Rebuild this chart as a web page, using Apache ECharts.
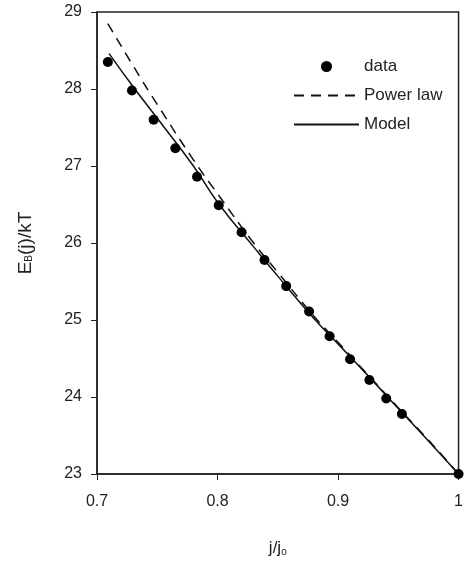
<!DOCTYPE html>
<html><head><meta charset="utf-8">
<script src="https://cdn.jsdelivr.net/npm/echarts@6/dist/echarts.min.js"></script>
<style>html,body{margin:0;padding:0;background:#fff}#c{width:466px;height:562px}</style>
</head><body><div id="c"></div>
<script>
const dataX = [0.709, 0.729, 0.747, 0.765, 0.783, 0.801, 0.820, 0.839, 0.857, 0.876, 0.893, 0.910, 0.926, 0.940, 0.953, 1.0];
const dataY = [28.35, 27.98, 27.60, 27.23, 26.86, 26.49, 26.14, 25.78, 25.44, 25.11, 24.79, 24.49, 24.22, 23.98, 23.78, 23.0];
const powerX = [0.709, 0.73, 0.75, 0.78, 0.80, 0.83, 0.85, 0.88, 0.90, 0.93, 0.95, 0.975, 1.0];
const powerY = [28.85, 28.30, 27.80, 27.08, 26.64, 26.00, 25.62, 25.05, 24.71, 24.20, 23.86, 23.44, 23.0];
const modelX = [0.710, 0.73, 0.75, 0.78, 0.80, 0.83, 0.85, 0.88, 0.90, 0.93, 0.95, 0.975, 1.0];
const modelY = [28.46, 28.03, 27.62, 27.00, 26.53, 25.95, 25.57, 25.02, 24.69, 24.19, 23.85, 23.43, 23.0];
const xTicks = [0.7, 0.8, 0.9, 1];
const yTicks = [23, 24, 25, 26, 27, 28, 29];

const zip = (a, b) => a.map((v, i) => [v, b[i]]);
const font = 'Liberation Sans, Arial, sans-serif';
const txt = '#222';
const chart = echarts.init(document.getElementById('c'), null, {renderer: 'canvas'});
chart.setOption({
  animation: false,
  backgroundColor: '#fff',
  grid: {left: 97, right: 7, top: 12, bottom: 88, show: true, borderColor: '#222', borderWidth: 1.5},
  legend: {
    orient: 'vertical', left: 288, top: 53, itemWidth: 65, itemHeight: 11, itemGap: 12,
    textStyle: {fontFamily: font, fontSize: 17, color: txt},
    data: [
      {name: 'data', icon: 'circle', itemStyle: {color: '#000', opacity: 1}},
      {name: 'Power law', itemStyle: {opacity: 0}},
      {name: 'Model', itemStyle: {opacity: 0}}
    ]
  },
  xAxis: {
    type: 'value', min: 0.7, max: 1, interval: 0.1,
    axisLine: {show: true, lineStyle: {color: '#222', width: 1.5}},
    axisTick: {show: true, length: 6, lineStyle: {color: '#222'}},
    splitLine: {show: false},
    axisLabel: {fontFamily: font, fontSize: 16, color: txt, margin: 20,
      formatter: v => { const t = xTicks.find(k => Math.abs(k - v) < 1e-6); return t === undefined ? '' : String(t); }},
    name: '{a|j/j}{s|o}', nameLocation: 'middle', nameGap: 66,
    nameTextStyle: {rich: {a: {fontFamily: font, fontSize: 17, color: txt}, s: {fontFamily: font, fontSize: 10, color: txt, padding: [7, 0, 0, 0]}}}
  },
  yAxis: {
    type: 'value', min: 23, max: 29, interval: 1,
    axisLine: {show: true, lineStyle: {color: '#222', width: 1.5}},
    axisTick: {show: true, length: 6, lineStyle: {color: '#222'}},
    splitLine: {show: false},
    axisLabel: {fontFamily: font, fontSize: 16, color: txt, margin: 15,
      formatter: v => { const t = yTicks.find(k => Math.abs(k - v) < 1e-6); return t === undefined ? '' : String(t); }},
    name: '{a|E}{s|B}{a|(j)/kT}', nameLocation: 'middle', nameGap: 62,
    nameTextStyle: {rich: {a: {fontFamily: font, fontSize: 19, color: txt}, s: {fontFamily: font, fontSize: 10, color: txt, padding: [7, 0, 0, 0]}}}
  },
  series: [
    {name: 'Power law', type: 'line', data: zip(powerX, powerY), smooth: true, showSymbol: false, symbol: 'none',
      lineStyle: {color: '#111', width: 1.5, type: [10, 7]}, itemStyle: {color: '#111'}, z: 2},
    {name: 'Model', type: 'line', data: zip(modelX, modelY), smooth: true, showSymbol: false, symbol: 'none',
      lineStyle: {color: '#111', width: 1.5}, itemStyle: {color: '#111'}, z: 3},
    {name: 'data', type: 'scatter', data: zip(dataX, dataY), symbol: 'circle', symbolSize: 10,
      itemStyle: {color: '#000', opacity: 1}, z: 4}
  ]
});
</script></body></html>
